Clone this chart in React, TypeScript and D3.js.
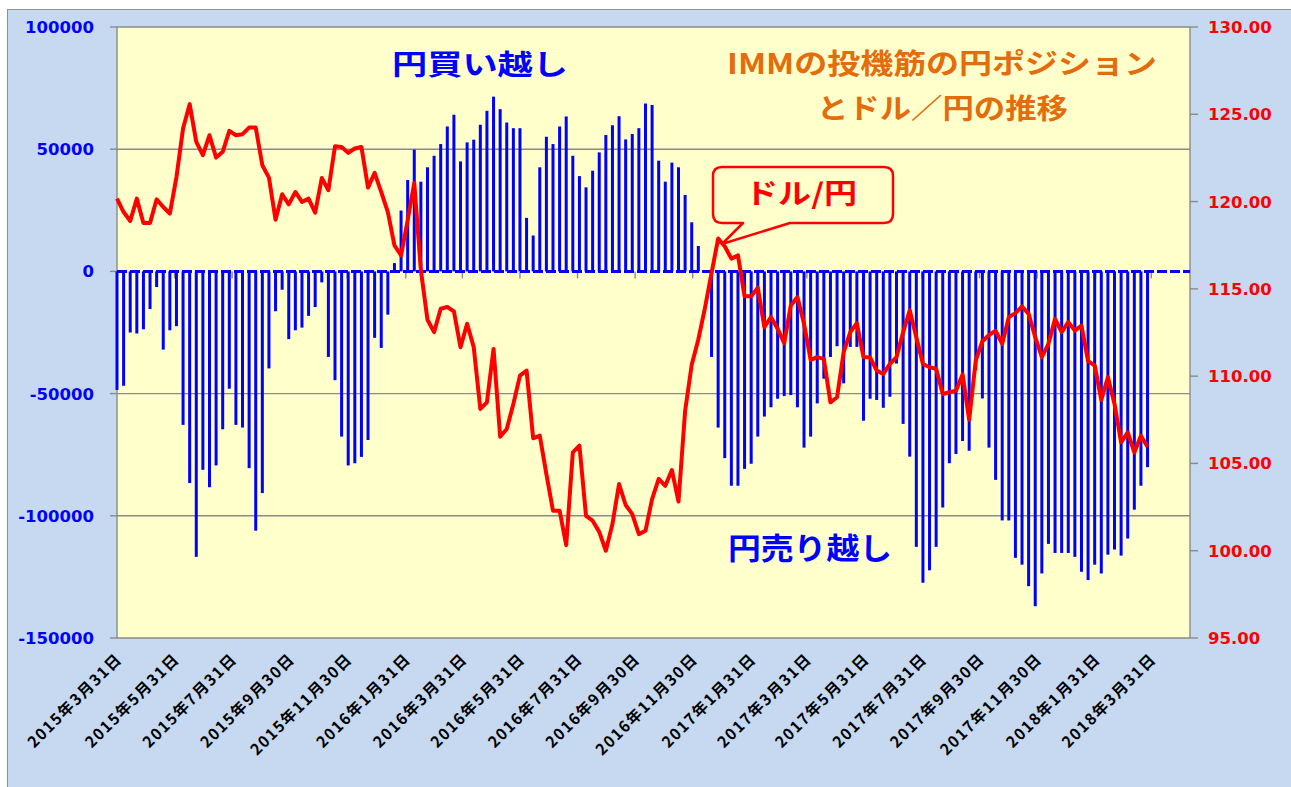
import React from 'react';
import * as d3 from 'd3';

// IMM net yen position (contracts), weekly from 2015-03-31
const firstWeek = '2015-03-31';
const positions = [
  -48500, -46800, -25000, -25400, -23700, -15400, -6400, -32000, -24100, -22400,
  -62800, -86600, -116800, -81200, -88300, -79400, -64600, -48000, -62800, -63900,
  -80500, -106100, -90700, -39700, -16300, -7500, -27700, -24100, -23000, -18200,
  -14600, -4500, -35000, -44500, -67600, -79400, -78500, -75900, -69000, -27200,
  -31300, -17700, 3400, 24900, 37400, 49800, 36700, 42600, 47300, 52100,
  59300, 64100, 45000, 52800, 53900, 60000, 65700, 71500, 66400, 60900,
  58600, 58600, 21900, 14700, 42600, 55100, 52100, 59300, 63400, 47300,
  39000, 34400, 41200, 48700, 55800, 59800, 63500, 54000, 56200, 58600,
  68700, 68100, 45300, 36700, 44500, 42600, 31300, 20100, 10400, 0,
  -35000, -63900, -76400, -87700, -87700, -80800, -78700, -67600, -59400, -55600,
  -52100, -51000, -50600, -55600, -72100, -67600, -54000, -43900, -35000, -30600,
  -45800, -30900, -30900, -61100, -52100, -52600, -55800, -51300, -37700, -62400,
  -75800, -112700, -127400, -122300, -112700, -96600, -78500, -74700, -69400, -73400,
  -40400, -52000, -72100, -85300, -101900, -101900, -117200, -120000, -128800, -137000,
  -123600, -111500, -115200, -115200, -115200, -116800, -122900, -126300, -120000, -123600,
  -115900, -113800, -116300, -109300, -97500, -87700, -80100,
];

// USD/JPY on the same weeks
const usdjpy = [
  120.17, 119.4, 118.89, 120.17, 118.77, 118.77, 120.13, 119.69, 119.31, 121.4,
  124.19, 125.58, 123.42, 122.66, 123.8, 122.52, 122.85, 124.05, 123.8, 123.86,
  124.24, 124.24, 122.08, 121.37, 118.96, 120.42, 119.84, 120.55, 119.98, 120.17,
  119.37, 121.35, 120.65, 123.17, 123.13, 122.79, 123.04, 123.13, 120.8, 121.64,
  120.55, 119.4, 117.49, 116.92, 118.93, 121.07, 116.06, 113.23, 112.52, 113.86,
  113.96, 113.71, 111.66, 113.0, 111.66, 108.12, 108.5, 111.56, 106.53, 106.97,
  108.41, 110.03, 110.32, 106.44, 106.59, 104.39, 102.29, 102.29, 100.32, 105.63,
  106.02, 102.0, 101.72, 101.08, 100.0, 101.53, 103.82, 102.62, 102.1, 100.95,
  101.14, 102.96, 104.11, 103.72, 104.62, 102.82, 108.0, 110.65, 112.1, 113.9,
  115.9, 117.88, 117.44, 116.73, 116.92, 114.57, 114.57, 115.07, 112.81, 113.38,
  112.72, 111.89, 114.05, 114.53, 113.0, 110.93, 111.09, 110.99, 108.5, 108.79,
  111.37, 112.52, 113.04, 111.09, 111.07, 110.32, 110.13, 110.7, 111.09, 112.52,
  113.77, 112.23, 110.7, 110.51, 110.42, 108.98, 109.08, 109.17, 110.1, 107.5,
  110.9, 112.0, 112.36, 112.6, 111.85, 113.38, 113.61, 113.99, 113.57, 112.23,
  111.09, 111.85, 113.28, 112.52, 113.09, 112.61, 112.9, 110.86, 110.61, 108.64,
  109.94, 108.41, 106.21, 106.78, 105.63, 106.59, 105.96,
];

const tickDates = [
  '2015-03-31', '2015-05-31', '2015-07-31', '2015-09-30', '2015-11-30',
  '2016-01-31', '2016-03-31', '2016-05-31', '2016-07-31', '2016-09-30', '2016-11-30',
  '2017-01-31', '2017-03-31', '2017-05-31', '2017-07-31', '2017-09-30', '2017-11-30',
  '2018-01-31', '2018-03-31',
];
const axisEnd = '2018-05-11';
const leftTicks = [100000, 50000, 0, -50000, -100000, -150000];
const rightTicks = [130, 125, 120, 115, 110, 105, 100, 95];

const W = 1291;
const H = 787;
const plot = { left: 117, right: 1190, top: 27, bottom: 638 };

const parse = d3.timeParse('%Y-%m-%d');
const jpFont = '"Noto Sans CJK JP", "Noto Sans", sans-serif';
const numFont = '"DejaVu Sans", sans-serif';
const GRID = '#8a8a8a';

export default function App() {
  const start = parse(firstWeek) as Date;
  const dates = positions.map((_, i) => d3.timeDay.offset(start, i * 7));

  const x = d3.scaleTime()
    .domain([start, parse(axisEnd) as Date])
    .range([plot.left, plot.right]);
  const yL = d3.scaleLinear().domain([-150000, 100000]).range([plot.bottom, plot.top]);
  const yR = d3.scaleLinear().domain([95, 130]).range([plot.bottom, plot.top]);

  const line = d3.line<number>()
    .x((_, i) => x(dates[i]))
    .y((d) => yR(d));

  const y0 = yL(0);
  const fmtDate = (s: string) => {
    const d = parse(s) as Date;
    return `${d.getFullYear()}年${d.getMonth() + 1}月${d.getDate()}日`;
  };

  return (
    <div style={{ position: 'absolute', left: 0, top: 0 }}>
      <svg width={W} height={H} style={{ display: 'block' }}>
        <rect x={0} y={0} width={W} height={H} fill="#ffffff" />
        <rect x={7.5} y={9.5} width={W} height={H} fill="#C6D9F1" stroke="#8f8f8f" strokeWidth={1} />
        <rect x={plot.left} y={plot.top} width={plot.right - plot.left} height={plot.bottom - plot.top} fill="#FFFFCC" />

        {/* gridlines */}
        {leftTicks.filter((t) => t !== 0).map((t) => (
          <line key={t} x1={plot.left} x2={plot.right} y1={yL(t)} y2={yL(t)} stroke={GRID} strokeWidth={1.4} />
        ))}

        {/* axes */}
        <line x1={plot.left} x2={plot.left} y1={plot.top} y2={plot.bottom} stroke={GRID} strokeWidth={1.4} />
        <line x1={plot.right} x2={plot.right} y1={plot.top} y2={plot.bottom} stroke={GRID} strokeWidth={1.4} />
        {leftTicks.map((t) => (
          <g key={t}>
            <line x1={plot.left - 7} x2={plot.left} y1={yL(t)} y2={yL(t)} stroke={GRID} strokeWidth={1.4} />
            <text x={94} y={yL(t)} dy="0.36em" textAnchor="end" fill="#0000FF"
              fontFamily={numFont} fontWeight={700} fontSize={16.5}>{t}</text>
          </g>
        ))}
        {rightTicks.map((t) => (
          <g key={t}>
            <line x1={plot.right} x2={plot.right + 8} y1={yR(t)} y2={yR(t)} stroke={GRID} strokeWidth={1.4} />
            <text x={1208} y={yR(t)} dy="0.36em" textAnchor="start" fill="#FF0000"
              fontFamily={numFont} fontWeight={700} fontSize={16.5}>{t.toFixed(2)}</text>
          </g>
        ))}

        {/* x ticks at zero line */}
        {tickDates.map((s) => (
          <line key={s} x1={x(parse(s) as Date)} x2={x(parse(s) as Date)} y1={y0} y2={y0 + 7}
            stroke={GRID} strokeWidth={1.4} />
        ))}

        {/* bars */}
        {positions.map((v, i) => (
          <rect key={i} x={x(dates[i]) - 1.5} width={3}
            y={Math.min(yL(v), y0)} height={Math.abs(yL(v) - y0)} fill="#0000FF" />
        ))}

        {/* zero axis line, dashed */}
        <line x1={plot.left} x2={plot.right} y1={y0} y2={y0} stroke="#0000FF" strokeWidth={3}
          strokeDasharray="10,3" />

        {/* USD/JPY */}
        <path d={line(usdjpy) || ''} fill="none" stroke="#FF0000" strokeWidth={4} strokeLinejoin="round" />

        {/* x labels */}
        {tickDates.map((s) => {
          const tx = x(parse(s) as Date) + 6;
          const ty = 660;
          return (
            <text key={s} x={tx} y={ty} transform={`rotate(-45 ${tx} ${ty})`} textAnchor="end"
              fontFamily={jpFont} fontWeight={700} fontSize={15.5} letterSpacing={1.5}
              fill="#000000">{fmtDate(s)}</text>
          );
        })}

        {/* annotations */}
        <text x={392} y={75} fill="#0000FF" fontFamily={jpFont} fontWeight={700} fontSize={28}
          textLength={176} lengthAdjust="spacingAndGlyphs">円買い越し</text>
        <text x={728} y={559} fill="#0000FF" fontFamily={jpFont} fontWeight={700} fontSize={30}
          textLength={164} lengthAdjust="spacingAndGlyphs">円売り越し</text>
        <text x={727} y={74} fill="#E46C0A" fontFamily={jpFont} fontWeight={700} fontSize={28}
          textLength={430} lengthAdjust="spacingAndGlyphs">IMMの投機筋の円ポジション</text>
        <text x={817} y={119} fill="#E46C0A" fontFamily={jpFont} fontWeight={700} fontSize={28}
          textLength={251} lengthAdjust="spacingAndGlyphs">とドル／円の推移</text>

        <path d="M 722 167 H 884 Q 893 167 893 176 V 214 Q 893 223 884 223 H 790 L 722 244 L 743 223 H 722 Q 713 223 713 214 V 176 Q 713 167 722 167 Z"
          fill="#FFFFCC" stroke="#FF0000" strokeWidth={2.5} strokeLinejoin="round" />
        <text x={745} y={204} fill="#FF0000" fontFamily={jpFont} fontWeight={700} fontSize={28}
          textLength={112} lengthAdjust="spacingAndGlyphs">ドル/円</text>
      </svg>
    </div>
  );
}
